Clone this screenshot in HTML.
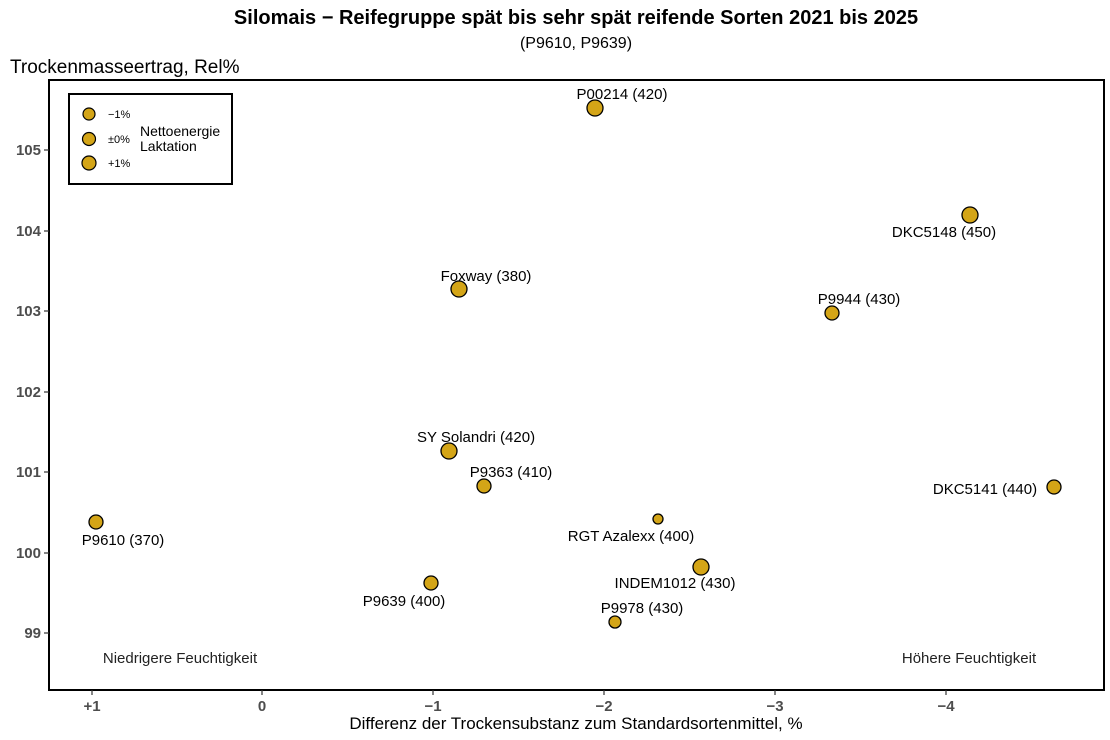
<!DOCTYPE html>
<html><head><meta charset="utf-8"><style>body{margin:0;background:#fff}svg{display:block;font-family:"Liberation Sans",Arial,sans-serif}</style></head><body>
<svg width="1110" height="740" xmlns="http://www.w3.org/2000/svg">
<text x="576" y="24" text-anchor="middle" font-size="20" font-weight="bold">Silomais − Reifegruppe spät bis sehr spät reifende Sorten 2021 bis 2025</text>
<text x="576" y="48" text-anchor="middle" font-size="16">(P9610, P9639)</text>
<text x="10" y="73" font-size="19">Trockenmasseertrag, Rel%</text>
<rect x="49" y="80" width="1055" height="610" fill="none" stroke="#000" stroke-width="2"/>
<g stroke="#333" stroke-width="1.2">
<line x1="44" y1="150" x2="49" y2="150"/><line x1="44" y1="231" x2="49" y2="231"/><line x1="44" y1="311" x2="49" y2="311"/><line x1="44" y1="392" x2="49" y2="392"/><line x1="44" y1="472" x2="49" y2="472"/><line x1="44" y1="553" x2="49" y2="553"/><line x1="44" y1="633" x2="49" y2="633"/>
<line x1="92" y1="690" x2="92" y2="695"/><line x1="262" y1="690" x2="262" y2="695"/><line x1="433" y1="690" x2="433" y2="695"/><line x1="604" y1="690" x2="604" y2="695"/><line x1="775" y1="690" x2="775" y2="695"/><line x1="946" y1="690" x2="946" y2="695"/>
</g>
<g font-size="15" font-weight="bold" fill="#4d4d4d" text-anchor="end">
<text x="41" y="155">105</text><text x="41" y="236">104</text><text x="41" y="316">103</text><text x="41" y="397">102</text><text x="41" y="477">101</text><text x="41" y="558">100</text><text x="41" y="638">99</text>
</g>
<g font-size="15" font-weight="bold" fill="#4d4d4d" text-anchor="middle">
<text x="92" y="711">+1</text><text x="262" y="711">0</text><text x="433" y="711">−1</text><text x="604" y="711">−2</text><text x="775" y="711">−3</text><text x="946" y="711">−4</text>
</g>
<text x="576" y="729" text-anchor="middle" font-size="17">Differenz der Trockensubstanz zum Standardsortenmittel, %</text>
<text x="180" y="663" text-anchor="middle" font-size="15" fill="#222">Niedrigere Feuchtigkeit</text>
<text x="969" y="663" text-anchor="middle" font-size="15" fill="#222">Höhere Feuchtigkeit</text>
<rect x="69" y="94" width="163" height="90" fill="#fff" stroke="#000" stroke-width="2"/>
<g fill="#D4A517" stroke="#000" stroke-width="1.2">
<circle cx="89" cy="114" r="6"/><circle cx="89" cy="139" r="6.5"/><circle cx="89" cy="163" r="7"/>
</g>
<g font-size="11"><text x="108" y="118">−1%</text><text x="108" y="143">±0%</text><text x="108" y="167">+1%</text></g>
<text x="140" y="136" font-size="14">Nettoenergie</text><text x="140" y="151" font-size="14">Laktation</text>
<g fill="#D4A517" stroke="#000" stroke-width="1.3">
<circle cx="595" cy="108" r="8"/><circle cx="970" cy="215" r="8"/><circle cx="459" cy="289" r="8"/><circle cx="832" cy="313" r="7"/>
<circle cx="449" cy="451" r="8"/><circle cx="484" cy="486" r="7"/><circle cx="96" cy="522" r="7"/><circle cx="1054" cy="487" r="7"/>
<circle cx="658" cy="519" r="5"/><circle cx="701" cy="567" r="8"/><circle cx="431" cy="583" r="7"/><circle cx="615" cy="622" r="6"/>
</g>
<g font-size="15" text-anchor="middle">
<text x="622" y="99">P00214 (420)</text>
<text x="944" y="237">DKC5148 (450)</text>
<text x="486" y="281">Foxway (380)</text>
<text x="859" y="304">P9944 (430)</text>
<text x="476" y="442">SY Solandri (420)</text>
<text x="511" y="477">P9363 (410)</text>
<text x="123" y="545">P9610 (370)</text>
<text x="985" y="494">DKC5141 (440)</text>
<text x="631" y="541">RGT Azalexx (400)</text>
<text x="675" y="588">INDEM1012 (430)</text>
<text x="404" y="606">P9639 (400)</text>
<text x="642" y="613">P9978 (430)</text>
</g>
</svg>
</body></html>
